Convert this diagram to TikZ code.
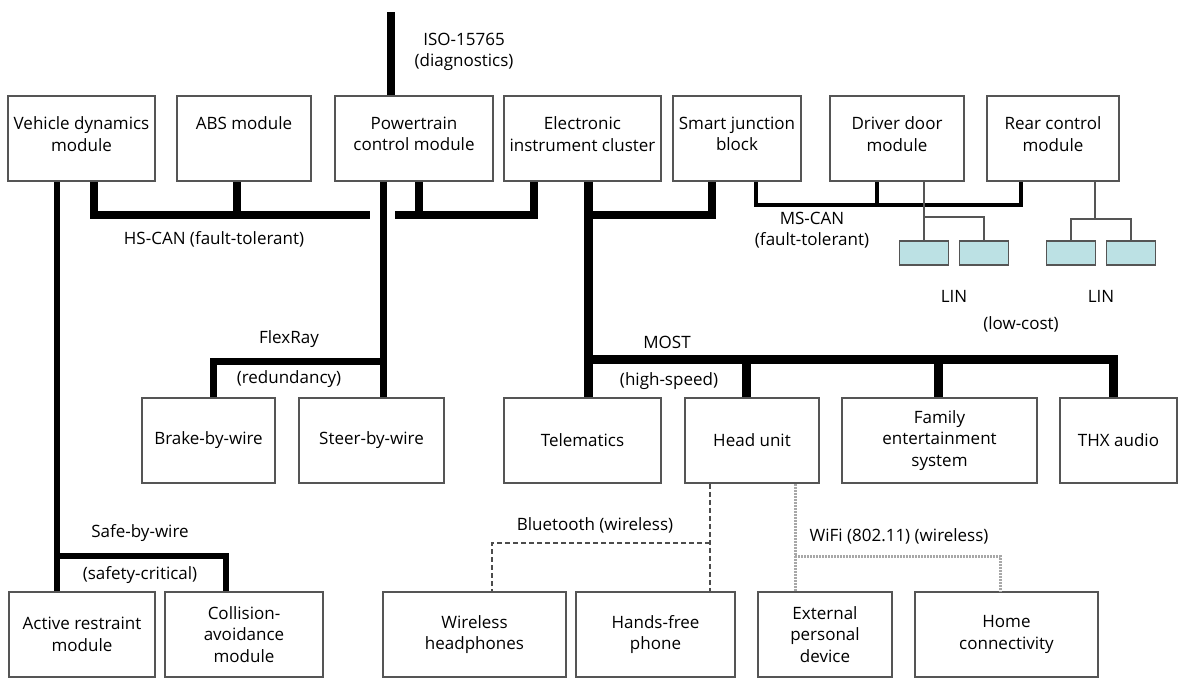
\documentclass[tikz,border=0pt]{standalone}
\usepackage{fontspec}
\setmainfont{Open Sans}
\usetikzlibrary{positioning}
\definecolor{BoxGray}{HTML}{555555}
\definecolor{LinCyan}{HTML}{BCE1E4}
\definecolor{WifiGray}{HTML}{A8A8A8}

\begin{document}
\begin{tikzpicture}[x=1pt, y=-1pt,
  every node/.style={font=\fontsize{17}{21.5}\selectfont, inner sep=1pt},
  box/.style={draw=BoxGray, fill=white, line width=1.6pt, align=center, minimum height=85},
  topbox/.style={box, text depth=9pt},
  lin/.style={draw=BoxGray, fill=LinCyan, line width=1.6pt, minimum width=49, minimum height=24},
  lbl/.style={align=center},
  bus/.style={line width=8pt, line join=miter},
  most/.style={line width=9pt, line join=miter},
  flex/.style={line width=7pt, line join=miter},
  safe/.style={line width=5.5pt, line join=miter},
  mscan/.style={line width=4.5pt, line join=miter},
  linw/.style={draw=BoxGray, line width=1.6pt},
  bt/.style={draw=black!70, line width=1.5pt, dash pattern=on 5pt off 3pt},
  wifi/.style={draw=WifiGray, line width=3pt, dash pattern=on 2pt off 1pt},
]
\useasboundingbox (0,0) rectangle (1187,678);

% top row
\node[topbox, minimum width=147] (vdm) at (81.5,138.5) {Vehicle dynamics\\module};
\node[topbox, minimum width=134] (abs) at (244,138.5) {ABS module\\\mbox{}};
\node[topbox, minimum width=158] (pcm) at (414,138.5) {Powertrain\\control module};
\node[topbox, minimum width=157] (eic) at (582.5,138.5) {Electronic\\instrument cluster};
\node[topbox, minimum width=128] (sjb) at (737,138.5) {Smart junction\\block};
\node[topbox, minimum width=134] (ddm) at (897,138.5) {Driver door\\module};
\node[topbox, minimum width=132] (rcm) at (1053,138.5) {Rear control\\module};

% LIN slaves
\node[lin] (lin1) at (924,253) {};
\node[lin] (lin2) at (984,253) {};
\node[lin] (lin3) at (1071,253) {};
\node[lin] (lin4) at (1131,253) {};

% middle row
\node[box, minimum width=133] (bbw) at (208.5,440.5) {Brake-by-wire};
\node[box, minimum width=145] (sbw) at (371.5,440.5) {Steer-by-wire};
\node[box, minimum width=157] (tel) at (582.5,440.5) {Telematics};
\node[box, minimum width=134] (hu)  at (752,440.5) {Head unit};
\node[box, minimum width=195] (fes) at (939.5,440.5) {Family\\entertainment\\system};
\node[box, minimum width=117] (thx) at (1118.5,440.5) {THX audio};

% bottom row
\node[box, minimum width=146] (arm) at (82,634.5) {Active restraint\\module};
\node[box, minimum width=158] (cam) at (244,634.5) {Collision-\\avoidance\\module};
\node[box, minimum width=183] (wh)  at (474.5,634.5) {Wireless\\headphones};
\node[box, minimum width=159] (hfp) at (655.5,634.5) {Hands-free\\phone};
\node[box, minimum width=134] (epd) at (825,634.5) {External\\personal\\device};
\node[box, minimum width=183] (hc)  at (1006.5,634.5) {Home\\connectivity};

% bus corners
\coordinate (iso) at (391,12);
\coordinate (hsA) at (94,215);
\coordinate (hsB) at (370,215);
\coordinate (hsAbs) at (237,215);
\coordinate (hsC) at (395,215);
\coordinate (hsP) at (419,215);
\coordinate (hsD) at (534,215);
\coordinate (fr) at (383,361);
\coordinate (frL) at (213,361);
\coordinate (sw) at (57,556);
\coordinate (swR) at (226,556);
\coordinate (mo) at (588,359);
\coordinate (mo1) at (746,359);
\coordinate (mo2) at (938,359);
\coordinate (moR) at (1113,359);
\coordinate (sj) at (712,215);
\coordinate (ms) at (756,205);
\coordinate (msD) at (877,205);
\coordinate (msR) at (1021,205);
\coordinate (linA) at (924,217);
\coordinate (linB) at (1095,219);
\coordinate (bt0) at (710,543);
\coordinate (btL) at (492,543);
\coordinate (wf) at (795,556);
\coordinate (wfR) at (1000,556);

% diagnostics + HS-CAN
\draw[bus] (iso) -- (iso |- pcm.north);
\draw[bus] (hsA |- vdm.south) -- (hsA) -- (hsB);
\draw[bus] (hsAbs) -- (hsAbs |- abs.south);
\draw[bus] (hsC) -- (hsD) -- (hsD |- eic.south);
\draw[bus] (hsP) -- (hsP |- pcm.south);

% FlexRay and Safe-by-wire
\draw[flex] (fr |- pcm.south) -- (fr |- sbw.north);
\draw[flex] (fr) -- (frL) -- (frL |- bbw.north);
\draw[safe] (sw |- vdm.south) -- (sw |- arm.north);
\draw[safe] (sw) -- (swR) -- (swR |- cam.north);

% MOST
\draw[most] (mo |- eic.south) -- (mo |- tel.north);
\draw[most] (mo) -- (moR) -- (moR |- thx.north);
\draw[most] (mo1) -- (mo1 |- hu.north);
\draw[most] (mo2) -- (mo2 |- fes.north);
\draw[bus] (mo |- sj) -- (sj) -- (sj |- sjb.south);

% MS-CAN and LIN
\draw[mscan] (ms |- sjb.south) -- (ms) -- (msR) -- (msR |- rcm.south);
\draw[mscan] (msD) -- (msD |- ddm.south);
\draw[linw] (lin1.north |- ddm.south) -- (lin1.north);
\draw[linw] (linA) -| (lin2.north);
\draw[linw] (linB |- rcm.south) -- (linB);
\draw[linw] (lin3.north) |- (linB) -| (lin4.north);

% wireless
\draw[bt] (bt0 |- hu.south) -- (bt0 |- hfp.north);
\draw[bt] (bt0) -- (btL) -- (btL |- wh.north);
\draw[wifi] (wf |- hu.south) -- (wf |- epd.north);
\draw[wifi] (wf) -- (wfR) -- (wfR |- hc.north);

% labels
\node[lbl] (isoL) at (464,52) {ISO-15765\\(diagnostics)};
\node[lbl] (hsL) at (214,239) {HS-CAN (fault-tolerant)};
\node[lbl] (msL) at (812,230) {MS-CAN\\(fault-tolerant)};
\node[lbl] (lin1L) at (954,296) {LIN};
\node[lbl] (lin2L) at (1101,296) {LIN};
\node[lbl] (lowL) at (1021,324) {(low-cost)};
\node[lbl] (frL1) at (289,339) {FlexRay};
\node[lbl] (frL2) at (289,379) {(redundancy)};
\node[lbl] (moL1) at (667,342) {MOST};
\node[lbl] (moL2) at (669,381) {(high-speed)};
\node[lbl] (swL1) at (140,533) {Safe-by-wire};
\node[lbl] (swL2) at (140,575) {(safety-critical)};
\node[lbl] (btLb) at (595,525) {Bluetooth (wireless)};
\node[lbl] (wfLb) at (899,536) {WiFi (802.11) (wireless)};
\end{tikzpicture}
\end{document}
